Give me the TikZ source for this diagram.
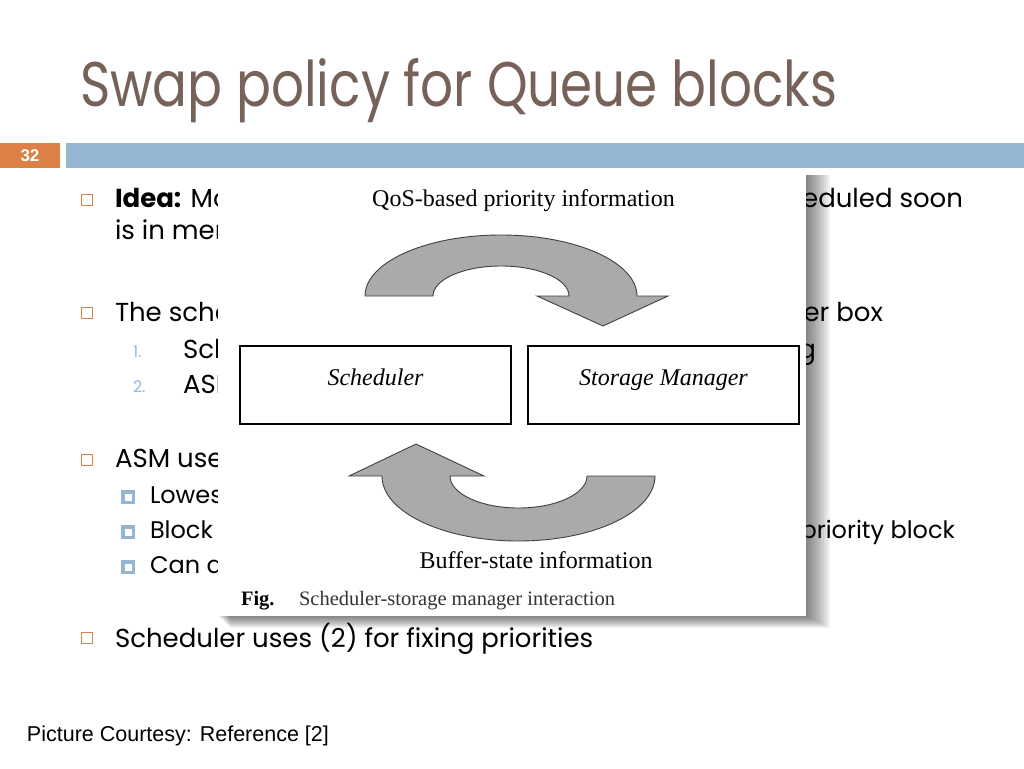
\documentclass[tikz,border=0pt]{standalone}
\usepackage{fontspec}
\setmainfont{Poppins}
\newfontfamily\titlefont{Poppins}[FakeStretch=0.82]
\newfontfamily\figfont{Liberation Serif}
\newfontfamily\refont{Liberation Sans}
\usetikzlibrary{positioning}
\definecolor{titlebrown}{RGB}{119,98,89}
\definecolor{slideorange}{RGB}{221,128,71}
\definecolor{slideblue}{RGB}{148,182,210}
\definecolor{arrowgray}{RGB}{170,170,170}

\begin{document}
\begin{tikzpicture}[x=1pt,y=-1pt]
\tikzstyle{every node}=[inner sep=0pt, outer sep=0pt]
\tikzstyle{body}=[anchor=base west, font=\fontsize{26}{31}\selectfont]
\tikzstyle{subbody}=[anchor=base west, font=\fontsize{24}{29}\selectfont]
\tikzstyle{tail}=[anchor=base east, font=\fontsize{26}{31}\selectfont]
\tikzstyle{mark1}=[draw=slideorange, line width=1.4pt, minimum size=11.5pt]
\tikzstyle{mark2}=[draw=slideblue, line width=3.5pt, minimum size=10.5pt]
\tikzstyle{numlabel}=[anchor=base west, text=slideblue, font=\fontsize{16}{16}\selectfont]
\tikzstyle{figtext}=[anchor=base, font=\figfont\fontsize{24}{24}\selectfont]
\tikzstyle{mgrbox}=[draw, line width=2.4pt, minimum width=271pt, minimum height=78pt, text height=17pt, text depth=17pt, font=\figfont\itshape\fontsize{24}{24}\selectfont]
\tikzstyle{bigarrow}=[fill=arrowgray, draw=black!75, line width=0.9pt]

\useasboundingbox (0,0) rectangle (1024,768);

\node[anchor=base west, text=titlebrown, font=\titlefont\fontsize{63}{63}\selectfont] (title) at (80,106) {Swap policy for Queue blocks};
\node[fill=slideorange, minimum width=60pt, minimum height=25pt, text=white, font=\refont\bfseries\fontsize{17}{17}\selectfont] (numbox) at (30,155.5) {32};
\node[fill=slideblue, minimum width=958pt, minimum height=25pt, right=6pt of numbox] (bar) {};

\node[mark1] (b1) at (87,200) {};
\node[body] (t1) at (115,207) {\textbf{Idea:} Mo};
\node[tail] (t1r) at (963,207) {heduled soon};
\node[body] (t1b) at (115,239) {is in mem};
\node[mark1] (b2) at (87,313) {};
\node[body] (t2) at (115,321) {The sched};
\node[tail] (t2r) at (883,321) {er box};
\node[numlabel] (n1) at (133,357) {1.};
\node[body] (t3) at (183,358) {Sched};
\node[tail] (t3r) at (816,358) {ng};
\node[numlabel] (n2) at (133,392) {2.};
\node[body] (t4) at (183,393) {ASM};
\node[mark1] (b3) at (87,460) {};
\node[body] (t5) at (115,467) {ASM uses};
\node[mark2] (s1) at (128,497) {};
\node[subbody] (t6) at (150,503) {Lowest};
\node[mark2] (s2) at (128,532) {};
\node[subbody] (t7) at (150,538) {Block w};
\node[subbody, anchor=base east] (t7r) at (955,538) {priority block};
\node[mark2] (s3) at (128,567) {};
\node[subbody] (t8) at (150,573) {Can al};
\node[mark1] (b4) at (87,638) {};
\node[body] (t9) at (115,647) {Scheduler uses (2) for fixing priorities};

\foreach \k in {1,...,12}
  \fill[black, opacity=0.05] ({218+\k},175) rectangle ({806+2*\k},{616+\k});
\node[fill=white, minimum width=588pt, minimum height=441pt] (fig) at (512,395.5) {};

\node[figtext] (qos) at (523.5,206) {QoS-based priority information};
\node[mgrbox] (sched) at (375.5,385) {Scheduler};
\node[mgrbox, right=17pt of sched] (store) {Storage Manager};
\node[figtext] (buf) at (536,568) {Buffer-state information};
\node[anchor=base west, font=\figfont\bfseries\fontsize{20.5}{20.5}\selectfont] (figlbl) at (241,605) {Fig.};
\node[anchor=base west, text=black!80, font=\figfont\fontsize{20.5}{20.5}\selectfont] (figcap) at (299,605) {Scheduler-storage manager interaction};

\draw[bigarrow] (365,296) arc[start angle=180, end angle=360, x radius=136, y radius=61]
  -- (668,296) -- (603,326) -- (537,296) -- (569,296)
  arc[start angle=0, end angle=-180, x radius=68, y radius=30] -- cycle;
\draw[bigarrow] (655,476) arc[start angle=0, end angle=180, x radius=136.5, y radius=65]
  -- (349,476) -- (416,444) -- (484,476) -- (450,476)
  arc[start angle=180, end angle=0, x radius=68.5, y radius=32] -- cycle;

\node[anchor=base west, font=\refont\fontsize{21.5}{21.5}\selectfont] (credit) at (27,741) {Picture Courtesy: Reference [2]};
\end{tikzpicture}
\end{document}
